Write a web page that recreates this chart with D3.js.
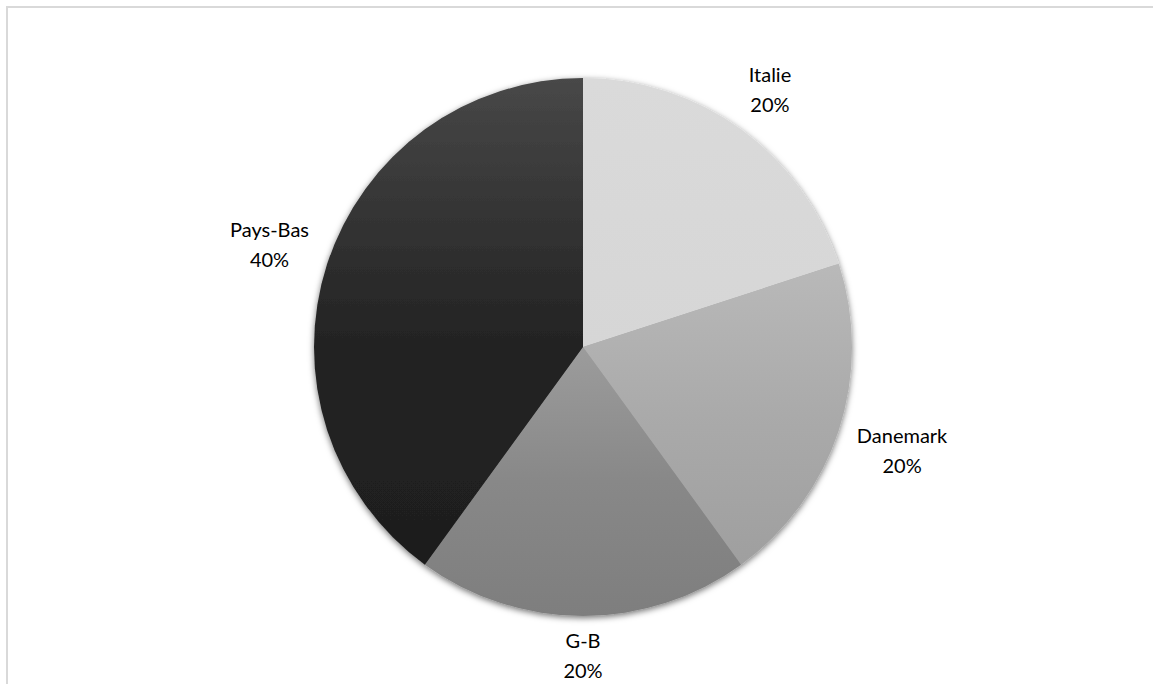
<!DOCTYPE html>
<html>
<head>
<meta charset="utf-8">
<script src="https://cdn.jsdelivr.net/npm/d3@7"></script>
<style>
  body { margin: 0; background: #fff; }
  text { font-family: Lato, "Liberation Sans", sans-serif; fill: #000; }
</style>
</head>
<body>
<script>
// data
const countries = ["Italie", "Danemark", "G-B", "Pays-Bas"];
const shares = [20, 20, 20, 40];
// gradient stops per slice: [offset, colour]
const gradients = [
  [[0, "#dadada"], [1, "#d6d6d6"]],
  [[0, "#b9b9b9"], [0.5, "#aaaaaa"], [1, "#9f9f9f"]],
  [[0, "#9c9c9c"], [0.5, "#888888"], [1, "#7e7e7e"]],
  [[0, "#484848"], [0.37, "#2e2e2e"], [0.55, "#232323"], [1, "#1e1e1e"]]
];

const width = 1153, height = 684;
const cx = 583, cy = 347, radius = 269;

const svg = d3.select("body").append("svg")
  .attr("width", width)
  .attr("height", height);

const defs = svg.append("defs");

// soft shadow under the pie
const shadow = defs.append("filter")
  .attr("id", "shadow")
  .attr("x", "-10%").attr("y", "-10%")
  .attr("width", "120%").attr("height", "120%");
shadow.append("feDropShadow")
  .attr("dx", 0).attr("dy", 2)
  .attr("stdDeviation", 3)
  .attr("flood-color", "#000")
  .attr("flood-opacity", 0.55);

gradients.forEach((stops, i) => {
  const g = defs.append("linearGradient")
    .attr("id", "grad" + i)
    .attr("x1", 0).attr("y1", 0)
    .attr("x2", 0).attr("y2", 1);
  stops.forEach(s => {
    g.append("stop").attr("offset", s[0]).attr("stop-color", s[1]);
  });
});

// frame (only top and left edges fall inside the picture)
svg.append("line")
  .attr("x1", 6).attr("y1", 7).attr("x2", width).attr("y2", 7)
  .attr("stroke", "#d9d9d9").attr("stroke-width", 2);
svg.append("line")
  .attr("x1", 7).attr("y1", 6).attr("x2", 7).attr("y2", height)
  .attr("stroke", "#d9d9d9").attr("stroke-width", 2);

const pie = d3.pie().sort(null).value(d => d.value);
const arcs = pie(countries.map((c, i) => ({ name: c, value: shares[i], i: i })));
const arc = d3.arc().innerRadius(0).outerRadius(radius);

const chart = svg.append("g")
  .attr("transform", "translate(" + cx + "," + cy + ")");

chart.append("g")
  .attr("filter", "url(#shadow)")
  .selectAll("path")
  .data(arcs)
  .enter()
  .append("path")
  .attr("d", arc)
  .attr("fill", d => "url(#grad" + d.data.i + ")");

// labels: outside end, box pushed out along the slice's mid angle
const total = d3.sum(shares);
const lineH = 30;
const labels = chart.selectAll(".label")
  .data(arcs)
  .enter()
  .append("g")
  .attr("class", "label");

labels.append("rect").attr("fill", "#fff");

const txt = labels.append("text")
  .attr("text-anchor", "middle")
  .style("font-size", "20px");
txt.append("tspan").attr("x", 0).attr("y", -lineH / 2 + 7).text(d => d.data.name);
txt.append("tspan").attr("x", 0).attr("y", lineH / 2 + 7)
  .text(d => Math.round(d.data.value / total * 100) + "%");

labels.each(function (d) {
  const t = d3.select(this).select("text").node().getBBox();
  const a = (d.startAngle + d.endAngle) / 2;
  const ux = Math.sin(a), uy = -Math.cos(a);
  const w = t.width + 8, h = lineH * 2;
  const ext = (w / 2) * Math.abs(ux) + (h / 2) * Math.abs(uy);
  const dist = radius + 10 + ext;
  d3.select(this)
    .attr("transform", "translate(" + (ux * dist) + "," + (uy * dist) + ")");
  d3.select(this).select("rect")
    .attr("x", -w / 2).attr("y", -h / 2)
    .attr("width", w).attr("height", h);
});
</script>
</body>
</html>
